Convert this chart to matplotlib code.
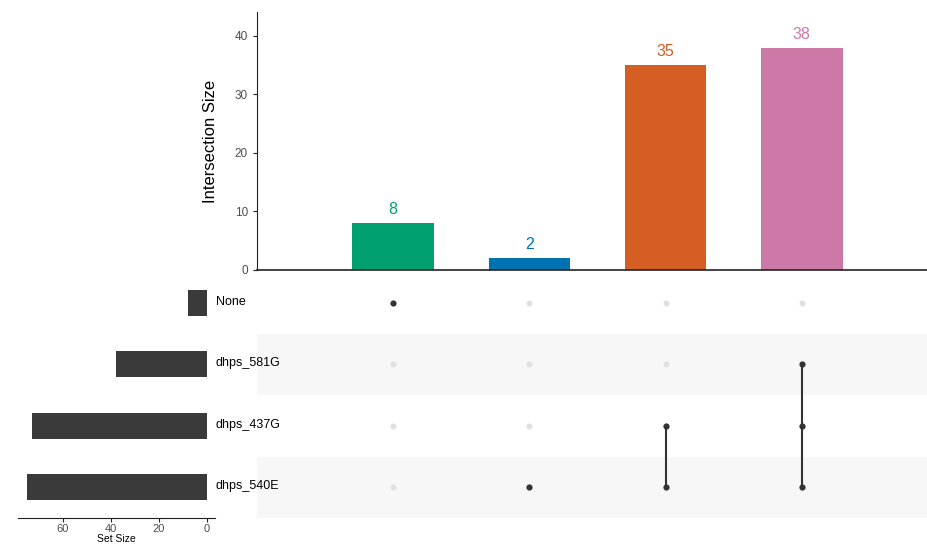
import numpy as np
import matplotlib
matplotlib.use("Agg")
import matplotlib.pyplot as plt

plt.rcParams['font.family'] = ['Liberation Sans', 'DejaVu Sans']

# data
sets = ["None", "dhps_581G", "dhps_437G", "dhps_540E"]
set_sizes = [8, 38, 73, 75]
inter_sizes = [8, 2, 35, 38]
inter_colors = ["#00A070", "#0072B2", "#D55E23", "#CC79A7"]
# membership of each intersection (row index into sets)
inter_members = [[0], [3], [2, 3], [1, 2, 3]]

fig = plt.figure(figsize=(9.27, 5.44), dpi=100)

# top: intersection size bars
ax = fig.add_axes([257/927, 1-270/544, 670/927, 258/544])
xs = np.arange(1, len(inter_sizes) + 1)
ax.bar(xs, inter_sizes, width=0.6, color=inter_colors)
for x, v, c in zip(xs, inter_sizes, inter_colors):
    ax.text(x, v + 1.0, str(v), color=c, ha="center", va="bottom", fontsize=11.5)
ax.set_xlim(0.0, 4.92)
ax.set_ylim(0, 44.1)
ax.set_yticks([0, 10, 20, 30, 40])
ax.set_xticks([])
for s in ["top", "right"]:
    ax.spines[s].set_visible(False)
ax.spines["left"].set_color("#222222")
ax.spines["bottom"].set_color("#222222")
ax.spines["bottom"].set_linewidth(1.2)
ax.tick_params(axis="y", labelsize=8.5, colors="#4d4d4d", length=3)
ax.tick_params(axis="y", color="#222222")
ax.set_ylabel("Intersection Size", fontsize=12, color="black", labelpad=12)

# matrix
am = fig.add_axes([257/927, 1-518/544, 670/927, 246/544])
am.set_xlim(0.0, 4.92)
am.set_ylim(3.5, -0.5)
for i in range(len(sets)):
    if i % 2 == 1:
        am.axhspan(i - 0.5, i + 0.5, color="#F7F7F7", lw=0)
for x, mem in zip(xs, inter_members):
    for i in range(len(sets)):
        if i in mem:
            continue
        am.plot(x, i, "o", color="#E0E0E0", ms=4.3, mew=0)
    if len(mem) > 1:
        am.plot([x, x], [min(mem), max(mem)], color="#333333", lw=1.5)
    am.plot([x] * len(mem), mem, "o", color="#333333", ms=4.5, mew=0)
am.axis("off")

# left: set size bars
al = fig.add_axes([18/927, 1-518/544, 197/927, 246/544])
al.barh(np.arange(len(sets)), set_sizes, height=0.42, color="#3A3A3A")
al.set_ylim(3.5, -0.5)
al.set_xlim(78.75, -3.3)
al.set_xticks([60, 40, 20, 0])
al.set_yticks([])
for s in ["top", "right", "left"]:
    al.spines[s].set_visible(False)
al.spines["bottom"].set_color("#222222")
al.tick_params(axis="x", labelsize=8, colors="#4d4d4d", length=3, pad=1)
al.tick_params(axis="x", color="#222222")
al.set_xlabel("Set Size", fontsize=7.5, labelpad=0)

for i, name in enumerate(sets):
    fig.text(216/927, 1 - (302 + i * 61.3)/544, name, fontsize=9,
             ha="left", va="center")

fig.savefig("out.png", dpi=100)
